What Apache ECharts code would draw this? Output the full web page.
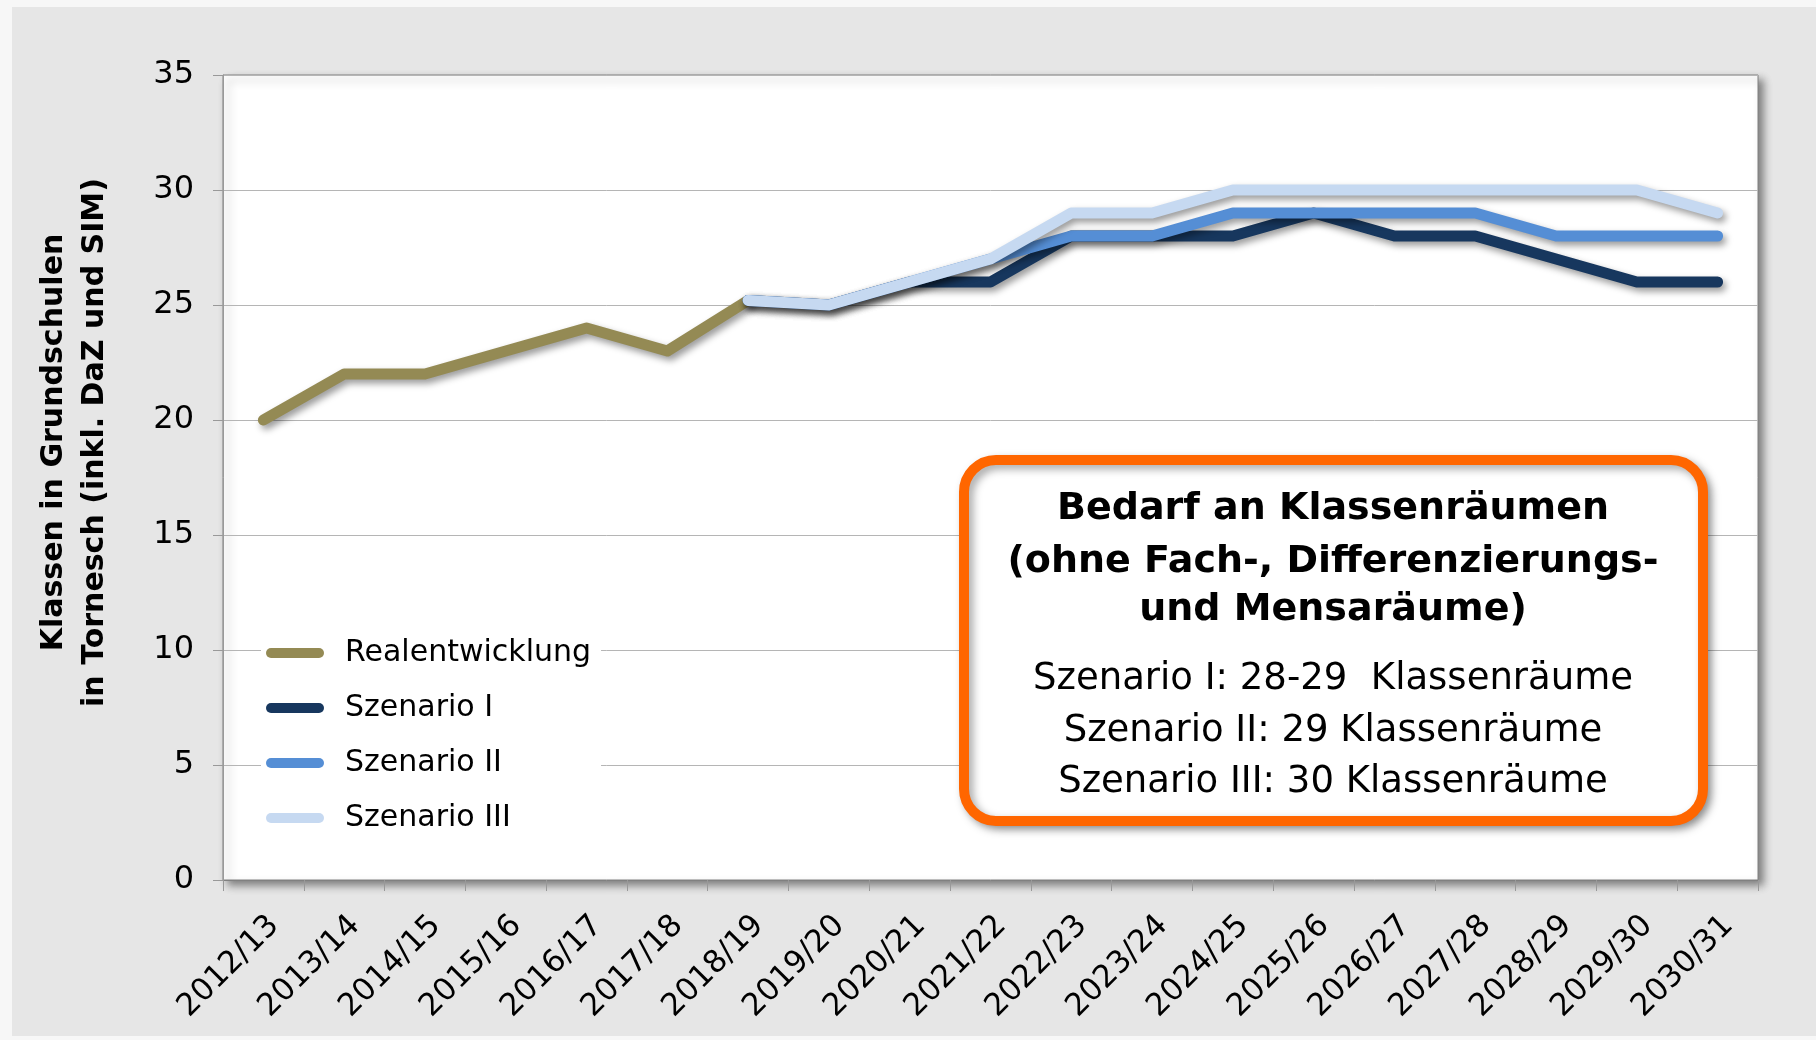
<!DOCTYPE html>
<html>
<head>
<meta charset="utf-8">
<title>Klassen in Grundschulen Tornesch</title>
<script src="https://cdn.jsdelivr.net/npm/echarts@6/dist/echarts.min.js"></script>
<style>
  html, body { margin: 0; padding: 0; background: #f7f7f7; }
  #chart { position: absolute; left: 12px; top: 7px; width: 1804px; height: 1029px; }
</style>
</head>
<body>
<div id="chart"></div>
<script>
// Schuljahre
const categories = ['2012/13', '2013/14', '2014/15', '2015/16', '2016/17', '2017/18', '2018/19',
  '2019/20', '2020/21', '2021/22', '2022/23', '2023/24', '2024/25', '2025/26', '2026/27',
  '2027/28', '2028/29', '2029/30', '2030/31'];

const realentwicklung = [20, 22, 22, 23, 24, 23, 25.2, null, null, null, null, null, null, null, null, null, null, null, null];
const szenario1 = [null, null, null, null, null, null, 25.2, 25, 26, 26, 28, 28, 28, 29, 28, 28, 27, 26, 26];
const szenario2 = [null, null, null, null, null, null, 25.2, 25, 26, 27, 28, 28, 29, 29, 29, 29, 28, 28, 28];
const szenario3 = [null, null, null, null, null, null, 25.2, 25, 26, 27, 29, 29, 30, 30, 30, 30, 30, 30, 29];

const seriesNames = ['Realentwicklung', 'Szenario I', 'Szenario II', 'Szenario III'];
const seriesColors = ['#948A54', '#17375E', '#558ED5', '#C6D9F1'];

const boxTitle = ['Bedarf an Klassenräumen', '(ohne Fach-, Differenzierungs-', 'und Mensaräume)'];
const boxLines = ['Szenario I: 28-29  Klassenräume', 'Szenario II: 29 Klassenräume', 'Szenario III: 30 Klassenräume'];

const font = 'DejaVu Sans, Verdana, sans-serif';

function lineSeries (name, data, color) {
  return {
    name: name,
    type: 'line',
    data: data,
    color: color,
    showSymbol: false,
    symbol: 'none',
    connectNulls: false,
    lineStyle: {
      width: 11,
      color: color,
      cap: 'round',
      join: 'round',
      shadowColor: 'rgba(0,0,0,0.4)',
      shadowBlur: 7,
      shadowOffsetX: 3,
      shadowOffsetY: 4
    }
  };
}

// Textfeld mit orangem Rahmen
const graphics = [{
  type: 'rect',
  z: 100,
  shape: { x: 952, y: 453, width: 739, height: 361, r: 32 },
  style: {
    fill: '#fff',
    stroke: '#FF6600',
    lineWidth: 10,
    shadowColor: 'rgba(0,0,0,0.35)',
    shadowBlur: 8,
    shadowOffsetX: 4,
    shadowOffsetY: 4
  }
}];
const titleY = [502, 555, 603];
boxTitle.forEach(function (t, i) {
  graphics.push({
    type: 'text', z: 101, x: 1321, y: titleY[i],
    style: { text: t, fill: '#000', font: 'bold 38px ' + font, align: 'center', verticalAlign: 'middle' }
  });
});
const lineY = [672, 724, 775];
boxLines.forEach(function (t, i) {
  graphics.push({
    type: 'text', z: 101, x: 1321, y: lineY[i],
    style: { text: t, fill: '#000', font: '37px ' + font, align: 'center', verticalAlign: 'middle' }
  });
});

const chart = echarts.init(document.getElementById('chart'));
chart.setOption({
  backgroundColor: '#e6e6e6',
  animation: false,
  textStyle: { fontFamily: font },
  grid: {
    left: 211,
    top: 68,
    right: 58,
    bottom: 156,
    outerBoundsMode: 'none',
    containLabel: false,
    show: true,
    backgroundColor: '#fff',
    borderColor: '#808080',
    borderWidth: 1,
    shadowColor: 'rgba(0,0,0,0.45)',
    shadowBlur: 8,
    shadowOffsetX: 5,
    shadowOffsetY: 5
  },
  legend: {
    orient: 'vertical',
    left: 249,
    top: 611,
    padding: [20, 10, 20, 5],
    itemGap: 25,
    itemWidth: 58,
    itemHeight: 11,
    backgroundColor: '#fff',
    icon: 'path://M5,0H53A5,5,0,0,1,53,10H5A5,5,0,0,1,5,0Z',
    data: seriesNames,
    textStyle: { fontSize: 30, color: '#000', fontFamily: font, padding: [0, 0, 0, 16] }
  },
  xAxis: {
    type: 'category',
    data: categories,
    boundaryGap: true,
    axisLine: { show: true, lineStyle: { color: '#808080', width: 1 } },
    axisTick: { show: true, length: 11, lineStyle: { color: '#999' } },
    axisLabel: { rotate: 45, interval: 0, fontSize: 31, color: '#000', margin: 30, verticalAlign: 'top', fontFamily: font },
    splitLine: { show: false }
  },
  yAxis: {
    type: 'value',
    min: 0,
    max: 35,
    interval: 5,
    name: 'Klassen in Grundschulen\nin Tornesch (inkl. DaZ und SIM)',
    nameLocation: 'middle',
    nameRotate: 90,
    nameGap: 107,
    nameTextStyle: { fontSize: 30, fontWeight: 'bold', color: '#000', lineHeight: 41, padding: [0, 0, 0, 70], fontFamily: font },
    axisLine: { show: true, lineStyle: { color: '#999', width: 1 } },
    axisTick: { show: true, length: 10, inside: false, lineStyle: { color: '#999' } },
    axisLabel: { fontSize: 32, color: '#000', margin: 29, fontFamily: font },
    splitLine: { show: true, lineStyle: { color: '#b5b5b5', width: 1 } }
  },
  series: [
    lineSeries(seriesNames[0], realentwicklung, seriesColors[0]),
    lineSeries(seriesNames[1], szenario1, seriesColors[1]),
    lineSeries(seriesNames[2], szenario2, seriesColors[2]),
    lineSeries(seriesNames[3], szenario3, seriesColors[3])
  ],
  graphic: graphics
});
</script>
</body>
</html>
